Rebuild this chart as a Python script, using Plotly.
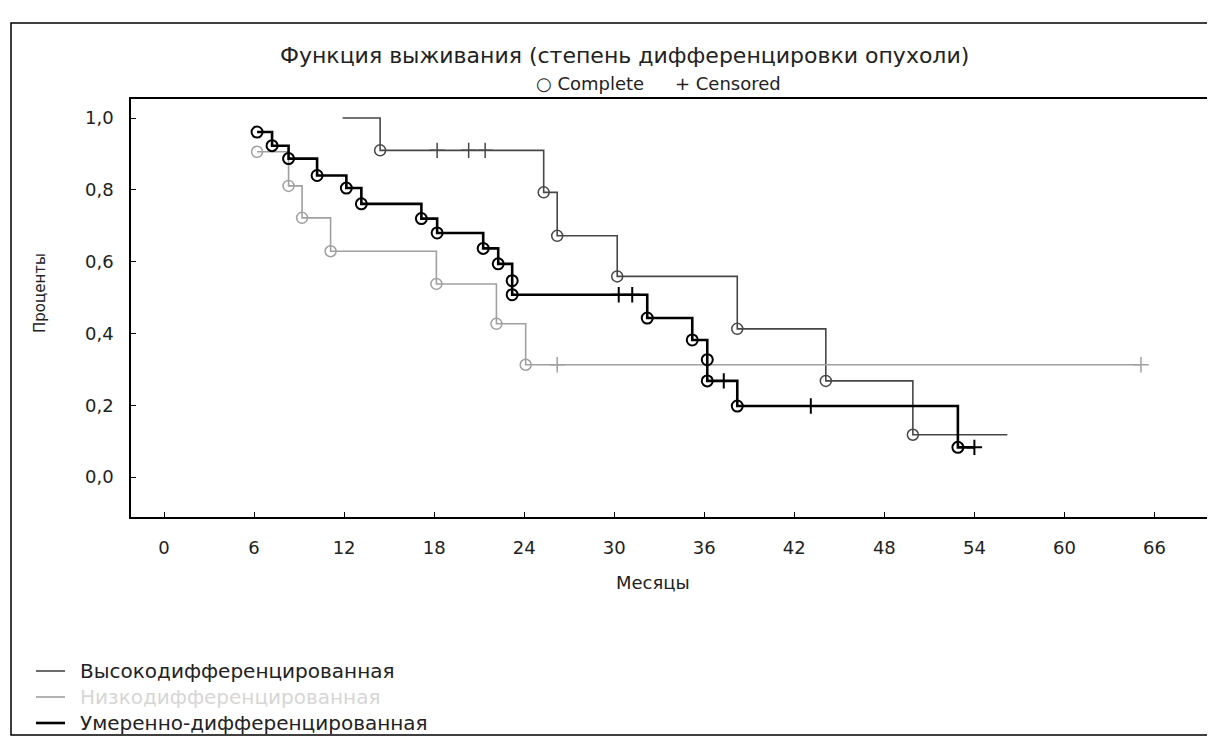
import plotly.graph_objects as go

# ---------------- data ----------------
month_ticks = [0, 6, 12, 18, 24, 30, 36, 42, 48, 54, 60, 66]
pct_ticks = [0.0, 0.2, 0.4, 0.6, 0.8, 1.0]
pct_tick_labels = ["0,0", "0,2", "0,4", "0,6", "0,8", "1,0"]

# Высокодифференцированная
high_start_t = 11.9
high_start_s = 1.0
high_event_t = [14.4, 25.3, 26.2, 30.2, 38.2, 44.1, 49.9]
high_event_s = [0.910, 0.793, 0.672, 0.559, 0.413, 0.268, 0.118]
high_cens_t = [18.2, 20.3, 21.4]
high_cens_s = [0.910, 0.910, 0.910]
high_last_t = 56.2

# Низкодифференцированная
low_event_t = [6.2, 8.3, 9.2, 11.1, 18.15, 22.15, 24.1]
low_event_s = [0.906, 0.811, 0.722, 0.629, 0.538, 0.427, 0.313]
low_cens_t = [26.2, 65.1]
low_cens_s = [0.313, 0.313]
low_last_t = 65.1

# Умеренно-дифференцированная
mod_event_t = [6.2, 7.2, 8.3, 10.2, 12.15, 13.15, 17.15, 18.2, 21.27, 22.27,
               23.2, 23.2, 32.2, 35.2, 36.2, 36.2, 38.2, 52.9]
mod_event_s = [0.961, 0.923, 0.887, 0.840, 0.805, 0.761, 0.720, 0.680, 0.637, 0.594,
               0.547, 0.508, 0.443, 0.382, 0.327, 0.268, 0.198, 0.083]
mod_cens_t = [30.3, 31.2, 37.3, 43.1, 54.0]
mod_cens_s = [0.508, 0.508, 0.268, 0.198, 0.083]
mod_last_t = 54.0

names = ["Высокодифференцированная", "Низкодифференцированная", "Умеренно-дифференцированная"]

# ---------------- figure ----------------
W, H = 1215, 742
L, R, T, B = 123, 10, 91, 233
PW, PH = W - L - R, H - T - B


def px(x):
    return (x - L) / PW


def py(y):
    return 1 - (y - T) / PH


FONT = "DejaVu Sans"
TXT = "#222222"
fig = go.Figure()

groups = [
    dict(name=names[0], start=[(high_start_t, high_start_s)], et=high_event_t, es=high_event_s,
         ct=high_cens_t, cs=high_cens_s, last=high_last_t, color="#474747", width=1.6, mw=1.5,
         text_color=TXT),
    dict(name=names[1], start=[], et=low_event_t, es=low_event_s, ct=low_cens_t, cs=low_cens_s,
         last=low_last_t, color="#a0a0a0", width=1.6, mw=1.5, text_color="#d6d6d6"),
    dict(name=names[2], start=[], et=mod_event_t, es=mod_event_s, ct=mod_cens_t, cs=mod_cens_s,
         last=mod_last_t, color="#000000", width=2.6, mw=2.0, text_color=TXT),
]

for g in groups:
    lx = [p[0] for p in g["start"]] + list(g["et"]) + [g["last"]]
    ly = [p[1] for p in g["start"]] + list(g["es"]) + [g["es"][-1]]
    fig.add_trace(go.Scatter(x=lx, y=ly, mode="lines", line=dict(shape="hv", color=g["color"], width=g["width"]),
                             name=g["name"], showlegend=False))
    fig.add_trace(go.Scatter(x=g["et"], y=g["es"], mode="markers", name=g["name"] + " (Complete)",
                             marker=dict(symbol="circle-open", size=11, color=g["color"],
                                         line=dict(color=g["color"], width=g["mw"])),
                             showlegend=False))
    fig.add_trace(go.Scatter(x=g["ct"], y=g["cs"], mode="markers", name=g["name"] + " (Censored)",
                             marker=dict(symbol="cross-thin-open", size=11, color=g["color"],
                                         line=dict(color=g["color"], width=g["mw"])),
                             showlegend=False))

axis_common = dict(showline=True, mirror=True, linecolor="black", linewidth=1.5, ticks="inside",
                   ticklen=5, tickcolor="black", showgrid=False, zeroline=False,
                   tickfont=dict(family=FONT, size=18, color=TXT))

fig.update_layout(
    width=W, height=H,
    margin=dict(l=L, r=R, t=T, b=B, autoexpand=False),
    paper_bgcolor="white", plot_bgcolor="white",
    font=dict(family=FONT, color=TXT),
    xaxis=dict(range=[-2.2, 69.9], tickvals=month_ticks, ticklabelstandoff=14, **axis_common),
    yaxis=dict(range=[-0.111, 1.053], tickvals=pct_ticks, ticktext=pct_tick_labels,
               ticklabelstandoff=12, **axis_common),
    showlegend=False,
)

annotations = [
    dict(text="Функция выживания (степень дифференцировки опухоли)", x=px(616), y=py(48), size=22),
    dict(text="○ Complete", x=px(582), y=py(75), size=18),
    dict(text="+ Censored", x=px(720), y=py(75), size=18),
    dict(text="Месяцы", x=px(645), y=py(574), size=18),
]
for a in annotations:
    fig.add_annotation(xref="paper", yref="paper", showarrow=False, xanchor="center", yanchor="middle",
                       text=a["text"], x=a["x"], y=a["y"], font=dict(family=FONT, color=TXT, size=a["size"]))

fig.add_annotation(xref="paper", yref="paper", showarrow=False, xanchor="center", yanchor="middle",
                   text="Проценты", x=px(32), y=py(285), textangle=-90,
                   font=dict(family=FONT, color=TXT, size=15))

# legend (drawn by hand to match the original spacing)
legend_rows_y = [663, 689, 715]
for g, yrow in zip(groups, legend_rows_y):
    fig.add_shape(type="line", xref="paper", yref="paper", x0=px(28), x1=px(57), y0=py(yrow), y1=py(yrow),
                  line=dict(color=g["color"], width=g["width"]))
    fig.add_annotation(xref="paper", yref="paper", showarrow=False, xanchor="left", yanchor="middle",
                       text=g["name"], x=px(70), y=py(yrow), font=dict(family=FONT, color=g["text_color"], size=20))

fig.add_shape(type="rect", xref="paper", yref="paper", x0=px(3), x1=px(1212), y0=py(727), y1=py(15),
              line=dict(color="black", width=1.5))

fig.write_html("out.html")
